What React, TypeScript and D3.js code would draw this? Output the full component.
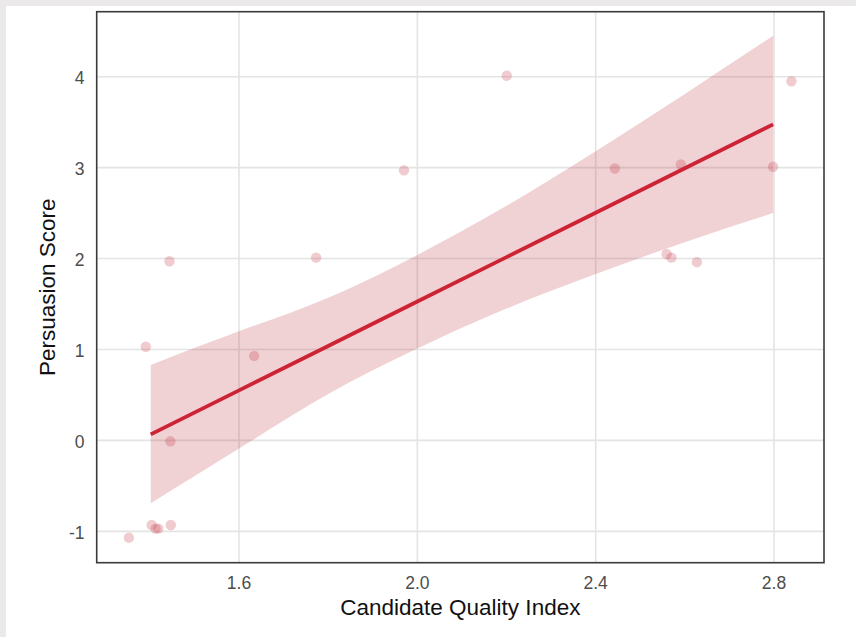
import React from 'react';
import * as d3 from 'd3';

const quality = [1.391, 1.634, 1.446, 1.353, 1.404, 1.413, 1.419, 1.447, 1.444, 1.773, 2.2005, 2.839, 1.97, 2.443, 2.591, 2.798, 2.559, 2.57, 2.627];
const persuasion = [1.03, 0.93, -0.01, -1.07, -0.93, -0.97, -0.97, -0.93, 1.97, 2.01, 4.01, 3.95, 2.97, 2.99, 3.035, 3.01, 2.05, 2.01, 1.96];

// lm fit + 95% band
const fitX = [1.402, 1.6, 1.8, 2.0, 2.2, 2.4, 2.6, 2.798];
const fitY = [0.066, 0.55, 1.038, 1.527, 2.016, 2.504, 2.993, 3.476];
const fitLow = [-0.69, -0.09, 0.51, 1.01, 1.45, 1.83, 2.18, 2.5];
const fitHigh = [0.83, 1.2, 1.57, 2.04, 2.58, 3.18, 3.81, 4.45];

const xTicks = [1.6, 2.0, 2.4, 2.8];
const yTicks = [-1, 0, 1, 2, 3, 4];

const W = 856, H = 637;
const left = 96.7, right = 824, top = 11.7, bottom = 562.7;
const font = '"Liberation Sans", Arial, sans-serif';
const red = '#cd2334';

export default function App() {
    const x = d3.scaleLinear().domain([1.2808, 2.9121]).range([left, right]);
    const y = d3.scaleLinear().domain([-1.345, 4.715]).range([bottom, top]);

    const band = d3.area<number>()
        .x((d) => x(fitX[d]))
        .y0((d) => y(fitLow[d]))
        .y1((d) => y(fitHigh[d]))
        .curve(d3.curveNatural);
    const line = d3.line<number>()
        .x((d) => x(fitX[d]))
        .y((d) => y(fitY[d]));
    const idx = d3.range(fitX.length);

    return (
        <svg width={W} height={H} style={{position: 'absolute', left: 0, top: 0}} fontFamily={font}>
            <rect width={W} height={H} fill="#ebe9e9" />
            <rect x={6} y={6} width={W - 6} height={H - 6} fill="#ffffff" />

            {/* grid */}
            {xTicks.map((t) => (
                <line key={'gx' + t} x1={x(t)} x2={x(t)} y1={top} y2={bottom} stroke="#e4e4e4" strokeWidth={1.6} />
            ))}
            {yTicks.map((t) => (
                <line key={'gy' + t} x1={left} x2={right} y1={y(t)} y2={y(t)} stroke="#e4e4e4" strokeWidth={1.6} />
            ))}

            {/* points */}
            {quality.map((q, i) => (
                <circle key={i} cx={x(q)} cy={y(persuasion[i])} r={5.2} fill="#c8404c" fillOpacity={0.27} />
            ))}

            {/* confidence band + fit */}
            <path d={band(idx) || ''} fill="#b3202c" fillOpacity={0.2} />
            <path d={line(idx) || ''} fill="none" stroke={red} strokeWidth={3.8} />

            <rect x={left} y={top} width={right - left} height={bottom - top} fill="none" stroke="#3a3a3a" strokeWidth={1.6} />

            {/* tick labels */}
            {xTicks.map((t) => (
                <text key={'tx' + t} x={x(t)} y={588.5} textAnchor="middle" fontSize={17.5} fill="#4d4d4d">
                    {d3.format('.1f')(t)}
                </text>
            ))}
            {yTicks.map((t) => (
                <text key={'ty' + t} x={84.5} y={y(t) + 7.5} textAnchor="end" fontSize={17.5} fill="#4d4d4d">
                    {t}
                </text>
            ))}

            {/* axis titles */}
            <text x={(left + right) / 2} y={615} textAnchor="middle" fontSize={22.5} fill="#111">
                Candidate Quality Index
            </text>
            <text transform={`translate(55,${(top + bottom) / 2}) rotate(-90)`} textAnchor="middle" fontSize={22.5} fill="#111">
                Persuasion Score
            </text>
        </svg>
    );
}
